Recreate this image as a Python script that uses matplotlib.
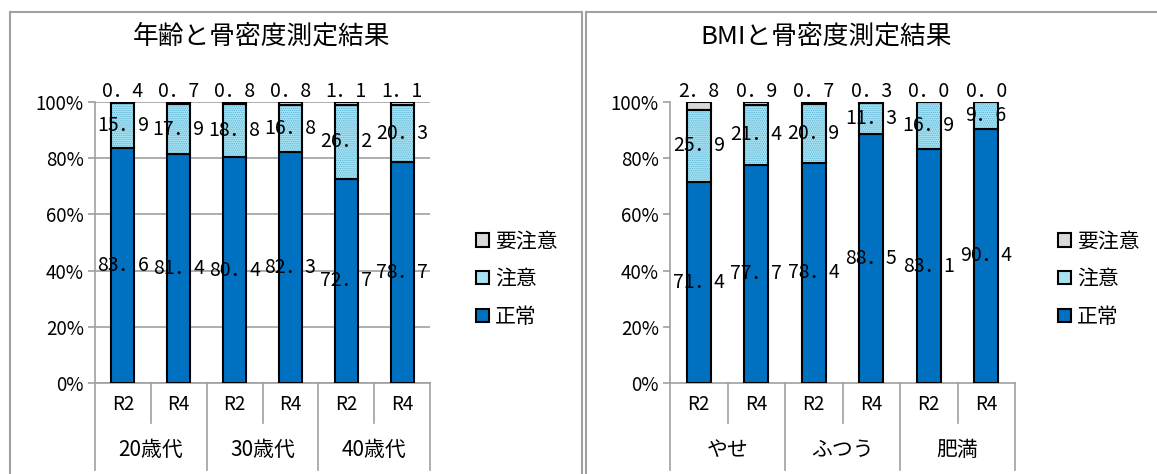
import matplotlib
matplotlib.use('Agg')
import numpy as np
import matplotlib.pyplot as plt
from matplotlib.patches import Patch, Rectangle
from matplotlib.lines import Line2D

plt.rcParams['font.family'] = ['Noto Sans CJK JP', 'DejaVu Sans']
plt.rcParams['hatch.linewidth'] = 0.6

# data
periods = ['R2', 'R4', 'R2', 'R4', 'R2', 'R4']
series_names = ['要注意', '注意', '正常']

age_groups = ['20歳代', '30歳代', '40歳代']
age_normal = [83.6, 81.4, 80.4, 82.3, 72.7, 78.7]
age_caution = [15.9, 17.9, 18.8, 16.8, 26.2, 20.3]
age_warn = [0.4, 0.7, 0.8, 0.8, 1.1, 1.1]

bmi_groups = ['やせ', 'ふつう', '肥満']
bmi_normal = [71.4, 77.7, 78.4, 88.5, 83.1, 90.4]
bmi_caution = [25.9, 21.4, 20.9, 11.3, 16.9, 9.6]
bmi_warn = [2.8, 0.9, 0.7, 0.3, 0.0, 0.0]

BLUE = '#0070C0'
LIGHT = '#A8E2F2'
DOTS = '#58B4D6'
GRAY = '#D9D9D9'
AXC = '#A0A0A0'

W, H = 1157, 474


def fmt(v):
    return f'{v:.1f}'.replace('.', '．')


def draw(ax, groups, normal, caution, warn, grid):
    x = np.arange(len(periods))
    w = 0.41
    top = np.add(normal, caution)
    ax.bar(x, normal, w, color=BLUE, edgecolor='black', lw=1.5, zorder=3)
    ax.bar(x, caution, w, bottom=normal, color=LIGHT, edgecolor=DOTS,
           hatch='........', lw=0, zorder=3)
    ax.bar(x, caution, w, bottom=normal, fill=False, edgecolor='black', lw=1.5, zorder=4)
    ax.bar(x, warn, w, bottom=top, color=GRAY, edgecolor='black', lw=1.5, zorder=3)
    for i in range(len(x)):
        ax.text(i, normal[i] / 2, fmt(normal[i]), ha='center', va='center', fontsize=14, zorder=6)
        ax.text(i, normal[i] + caution[i] / 2, fmt(caution[i]), ha='center', va='center',
                fontsize=14, zorder=6)
        ax.text(i, 103.6, fmt(warn[i]), ha='center', va='center', fontsize=14, zorder=6,
                clip_on=False)
    ax.set_xlim(-0.5, 5.5)
    ax.set_ylim(0, 100)
    ax.set_yticks(range(0, 101, 20))
    ax.set_yticklabels([f'{v}%' for v in range(0, 101, 20)])
    ax.set_xticks([])
    for s in ['top', 'right']:
        ax.spines[s].set_visible(False)
    for s in ['left', 'bottom']:
        ax.spines[s].set_color(AXC)
        ax.spines[s].set_linewidth(1.2)
    ax.tick_params(axis='y', length=5, width=1.2, color=AXC, labelsize=13.5, pad=3)
    if grid:
        ax.yaxis.grid(True, color=AXC, lw=1.2)
        ax.set_axisbelow(True)

    # two-level category axis
    trans = ax.get_xaxis_transform()
    for i, p in enumerate(periods):
        ax.text(i, -0.078, p, transform=trans, ha='center', va='center', fontsize=13.5)
    for g, name in enumerate(groups):
        ax.text(2 * g + 0.5, -0.238, name, transform=trans, ha='center', va='center', fontsize=15)
    for b in [-0.5, 1.5, 3.5, 5.5]:
        ax.add_line(Line2D([b, b], [0, -0.31], transform=trans, color=AXC, lw=1.2, clip_on=False))
    for b in [0.5, 2.5, 4.5]:
        ax.add_line(Line2D([b, b], [0, -0.142], transform=trans, color=AXC, lw=1.2, clip_on=False))


fig = plt.figure(figsize=(W / 100, H / 100), dpi=100)

# panel frames
fig.patches.append(Rectangle((10 / W, -0.05), (582 - 10) / W, 1.05 - 12 / H, transform=fig.transFigure,
                             fill=False, edgecolor=AXC, lw=1.5))
fig.patches.append(Rectangle((586 / W, -0.05), 0.6, 1.05 - 12 / H, transform=fig.transFigure,
                             fill=False, edgecolor=AXC, lw=1.5))

bottom = (H - 383) / H
height = 281 / H
ax1 = fig.add_axes([95 / W, bottom, (430 - 95) / W, height])
ax2 = fig.add_axes([670 / W, bottom, (1015 - 670) / W, height])

draw(ax1, age_groups, age_normal, age_caution, age_warn, grid=True)
draw(ax2, bmi_groups, bmi_normal, bmi_caution, bmi_warn, grid=False)

fig.text(262 / W, 1 - 37 / H, '年齢と骨密度測定結果', ha='center', va='center', fontsize=18.5)
fig.text(826 / W, 1 - 37 / H, 'BMIと骨密度測定結果', ha='center', va='center', fontsize=18.5)

handles = [Patch(facecolor=GRAY, edgecolor='black', lw=1.5),
           Patch(facecolor=LIGHT, edgecolor='black', lw=1.5),
           Patch(facecolor=BLUE, edgecolor='black', lw=1.5)]
for lx in [468, 1050]:
    fig.legend(handles, series_names, loc='upper left', bbox_to_anchor=(lx / W, 1 - 222 / H),
               frameon=False, fontsize=15, handlelength=0.6, handleheight=0.6,
               handletextpad=0.3, labelspacing=0.75, borderaxespad=0)

fig.savefig('out.png', dpi=100)
